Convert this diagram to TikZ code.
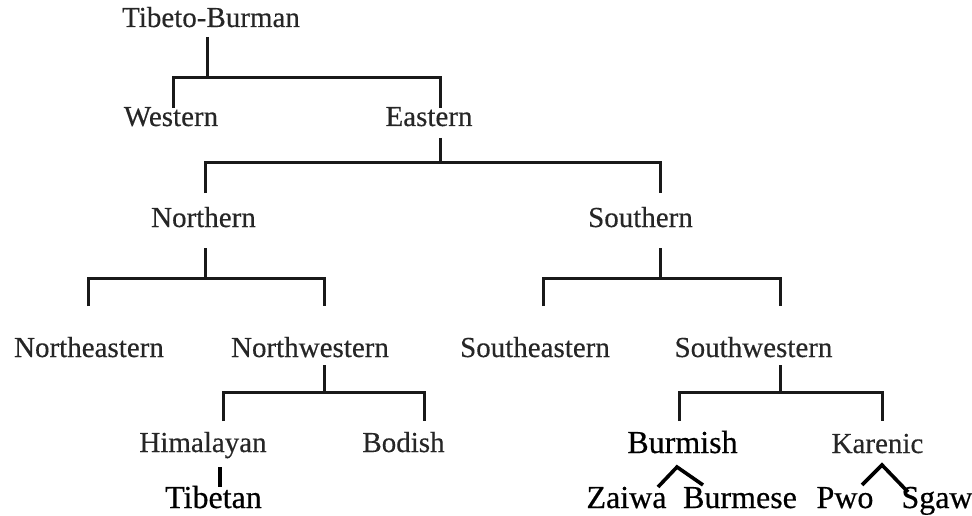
\documentclass[tikz,border=0pt]{standalone}
\usepackage{fontspec}
\setmainfont{Liberation Serif}
\newfontfamily\labfont[FakeBold=0.35]{Liberation Serif}
\newfontfamily\biglabfont[FakeBold=0.5]{Liberation Serif}
\usetikzlibrary{calc}
\begin{document}
\begin{tikzpicture}[x=1pt,y=-1pt,
  lab/.style={inner sep=0pt,anchor=base,font=\labfont\fontsize{29}{30}\selectfont,text=black!85},
  biglab/.style={inner sep=0pt,anchor=base,font=\biglabfont\fontsize{32}{33}\selectfont,text=black},
  branch/.style={line width=3pt,draw=black!90},
  thick branch/.style={line width=3.6pt,draw=black}]
\useasboundingbox (0,0) rectangle (972,516);
\fill[white] (0,0) rectangle (972,516);
% labels
\node[lab] (tb)   at (211,27)    {Tibeto-Burman};
\node[lab] (west) at (171,126)   {Western};
\node[lab] (east) at (429,126)   {Eastern};
\node[lab] (nor)  at (203.5,227) {Northern};
\node[lab] (sou)  at (640.5,227) {Southern};
\node[lab] (ne)   at (89,357)    {Northeastern};
\node[lab] (nw)   at (310,357)   {Northwestern};
\node[lab] (se)   at (535,357)   {Southeastern};
\node[lab] (sw)   at (753.5,357) {Southwestern};
\node[lab] (him)  at (203,452)   {Himalayan};
\node[lab] (bod)  at (403.5,452) {Bodish};
\node[biglab] (bur) at (682.5,453) {Burmish};
\node[lab] (kar)  at (877.5,453) {Karenic};
\node[biglab] (tib) at (213.5,508) {Tibetan};
\node[biglab] (zai) at (626.5,508) {Zaiwa};
\node[biglab] (brm) at (740,508)   {Burmese};
\node[biglab] (pwo) at (845,508)   {Pwo};
\node[biglab] (sga) at (937,508)   {Sgaw};
% forks
\coordinate (f1) at (207,78);
\coordinate (f2) at (440,163);
\coordinate (f3) at (205,278);
\coordinate (f4) at (660,278);
\coordinate (f5) at (324,392);
\coordinate (f6) at (780,392);
\draw[branch] ($(tb.base -| f1)+(0,10)$) -- (f1);
\draw[branch] ($(west.base)+(2,-18)$) |- (f1) -| ($(east.base)+(11,-18)$);
\draw[branch] ($(east.base -| f2)+(0,12)$) -- (f2);
\draw[branch] ($(nor.base)+(1.5,-34)$) |- (f2) -| ($(sou.base)+(19.5,-34)$);
\draw[branch] ($(nor.base -| f3)+(0,21)$) -- (f3);
\draw[branch] ($(ne.base)+(-1,-51)$) |- (f3) -| ($(nw.base)+(14,-51)$);
\draw[branch] ($(sou.base -| f4)+(0,21)$) -- (f4);
\draw[branch] ($(se.base)+(8,-51)$) |- (f4) -| ($(sw.base)+(26.5,-51)$);
\draw[branch] ($(nw.base -| f5)+(0,8)$) -- (f5);
\draw[branch] ($(him.base)+(20,-31)$) |- (f5) -| ($(bod.base)+(20.5,-31)$);
\draw[branch] ($(sw.base -| f6)+(0,8)$) -- (f6);
\draw[branch] ($(bur.base)+(-3.5,-32)$) |- (f6) -| ($(kar.base)+(4.5,-32)$);
% lower links
\draw[thick branch] ($(him.base)+(17,15)$) -- ($(tib.base)+(6.5,-21)$);
\draw[thick branch] ($(zai.base)+(31.5,-21)$) -- ($(bur.base)+(-5.5,14)$) -- ($(brm.base)+(-37,-23)$);
\draw[thick branch] ($(pwo.base)+(17,-23)$) -- ($(kar.base)+(4.5,12)$) -- ($(sga.base)+(-29,-16)$);
\end{tikzpicture}
\end{document}
